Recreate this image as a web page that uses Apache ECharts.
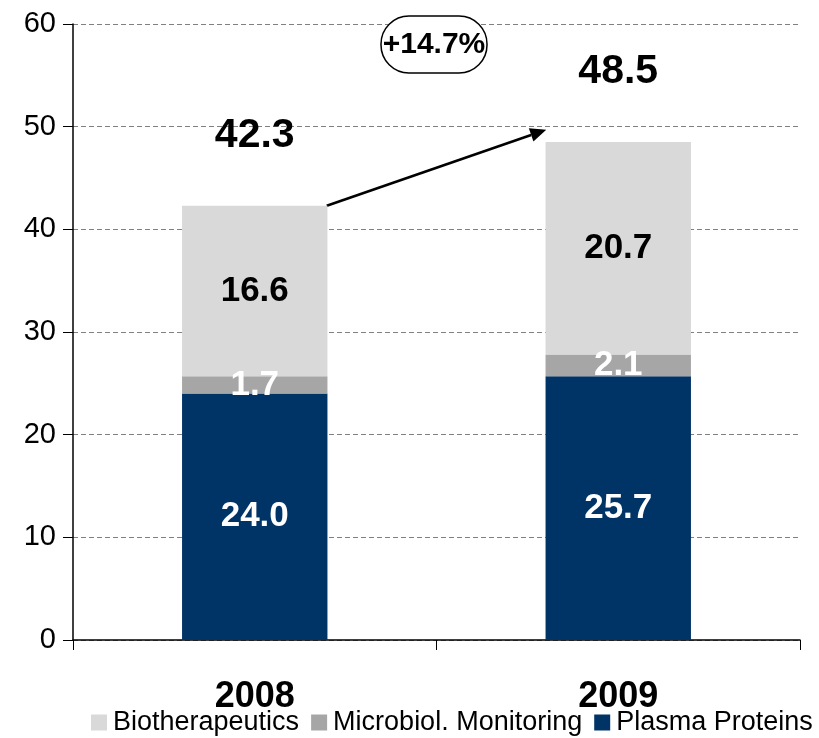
<!DOCTYPE html>
<html>
<head>
<meta charset="utf-8">
<script src="https://cdn.jsdelivr.net/npm/echarts@6/dist/echarts.min.js"></script>
<style>
  html, body { margin: 0; padding: 0; background: #fff; }
  #chart { width: 819px; height: 738px; }
</style>
</head>
<body>
<div id="chart"></div>
<script>
const years = ['2008', '2009'];
const plasmaProteins = [24.0, 25.7];
const microbiolMonitoring = [1.7, 2.1];
const biotherapeutics = [16.6, 20.7];
const totals = [42.3, 48.5];
const growthLabel = '+14.7%';
const yTicks = [0, 10, 20, 30, 40, 50, 60];

const FONT = '"Liberation Sans", Arial, sans-serif';
const chart = echarts.init(document.getElementById('chart'));

const segLabel = (color) => ({
  show: true, position: 'inside', color: color,
  fontFamily: FONT, fontWeight: 'bold', fontSize: 35,
  formatter: p => p.value.toFixed(1)
});

chart.setOption({
  animation: false,
  grid: { left: 73, right: 19, top: 24, bottom: 98 },
  legend: {
    top: 709, left: 91, padding: 0, itemWidth: 16, itemHeight: 16, itemGap: 12,
    icon: 'rect',
    textStyle: { fontFamily: FONT, fontSize: 27, color: '#000', padding: [0, 0, 0, 1] },
    data: ['Biotherapeutics', 'Microbiol. Monitoring', 'Plasma Proteins']
  },
  xAxis: {
    type: 'category', data: years,
    axisLine: { lineStyle: { color: '#000', width: 1.5 } },
    axisTick: { show: true, length: 10, lineStyle: { color: '#000' } },
    axisLabel: { color: '#000', fontFamily: FONT, fontWeight: 'bold', fontSize: 36, margin: 39 }
  },
  yAxis: {
    type: 'value', min: yTicks[0], max: yTicks[yTicks.length - 1], interval: 10,
    axisLine: { show: true, lineStyle: { color: '#000', width: 1.5 } },
    axisTick: { show: true, length: 10, lineStyle: { color: '#000' } },
    axisLabel: { color: '#000', fontFamily: FONT, fontSize: 29, margin: 17 },
    splitLine: { lineStyle: { color: '#808080', type: [5, 3], width: 1 } }
  },
  series: [
    { name: 'Plasma Proteins', type: 'bar', stack: 'total', barWidth: '40%',
      itemStyle: { color: '#003366' }, label: segLabel('#fff'), data: plasmaProteins },
    { name: 'Microbiol. Monitoring', type: 'bar', stack: 'total',
      itemStyle: { color: '#A6A6A6' }, label: segLabel('#fff'), data: microbiolMonitoring },
    { name: 'Biotherapeutics', type: 'bar', stack: 'total',
      itemStyle: { color: '#D9D9D9' }, label: segLabel('#000'), data: biotherapeutics },
    { name: 'Total', type: 'scatter', symbolSize: 0, silent: true,
      itemStyle: { opacity: 1 },
      label: { show: true, position: 'top', distance: 50, color: '#000',
        fontFamily: FONT, fontWeight: 'bold', fontSize: 41,
        formatter: p => p.value[1].toFixed(1) },
      data: years.map((y, i) => [y, totals[i]]) }
  ]
});

// growth arrow and badge
const start = chart.convertToPixel({ gridIndex: 0 }, [years[0], totals[0]]);
const end = chart.convertToPixel({ gridIndex: 0 }, [years[1], 49.7]);
const half = 72;
const x1 = start[0] + half, y1 = start[1];
const x2 = end[0] - half, y2 = end[1];
const ang = Math.atan2(y2 - y1, x2 - x1);
const hl = 16, hw = 7;
const bx = x2 - hl * Math.cos(ang), by = y2 - hl * Math.sin(ang);
chart.setOption({
  graphic: [
    { type: 'line', shape: { x1: x1, y1: y1, x2: bx, y2: by }, style: { stroke: '#000', lineWidth: 2.5 } },
    { type: 'polygon', shape: { points: [
        [x2, y2],
        [bx + hw * Math.sin(ang), by - hw * Math.cos(ang)],
        [bx - hw * Math.sin(ang), by + hw * Math.cos(ang)]
      ] }, style: { fill: '#000' } },
    { type: 'rect', shape: { x: 381, y: 16, width: 106, height: 57, r: 28 },
      style: { fill: '#fff', stroke: '#000', lineWidth: 1.5 } },
    { type: 'text', x: 434, y: 45, style: { text: growthLabel, fill: '#000',
        font: 'bold 30px ' + FONT, align: 'center', verticalAlign: 'middle' } }
  ]
});
</script>
</body>
</html>
